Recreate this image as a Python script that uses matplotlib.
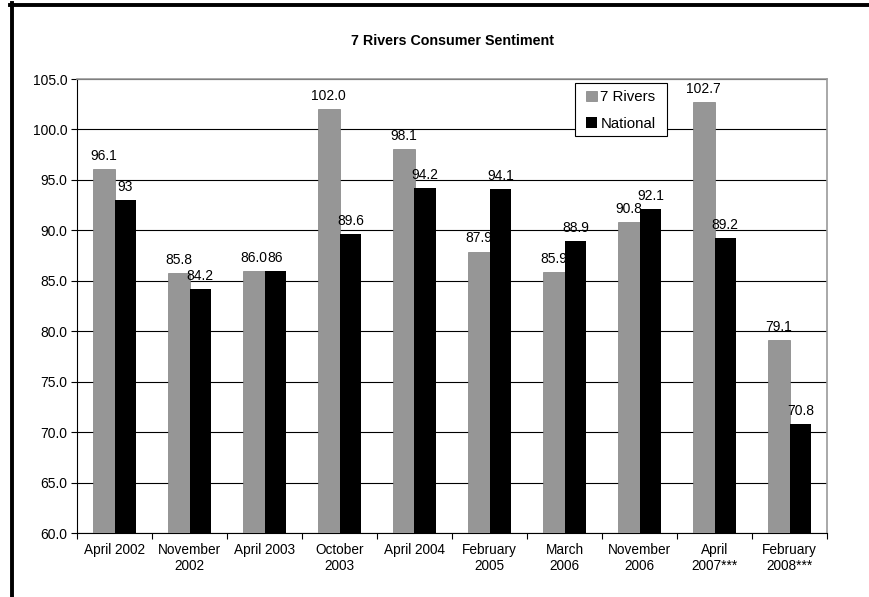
import matplotlib.pyplot as plt
from matplotlib.lines import Line2D
from matplotlib.patches import Patch, Rectangle
import numpy as np

plt.rcParams['font.family'] = ['Liberation Sans', 'DejaVu Sans']

# Data
periods = ['April 2002', 'November\n2002', 'April 2003', 'October\n2003', 'April 2004',
           'February\n2005', 'March\n2006', 'November\n2006', 'April\n2007***', 'February\n2008***']
rivers = [96.1, 85.8, 86.0, 102.0, 98.1, 87.9, 85.9, 90.8, 102.7, 79.1]
national = [93, 84.2, 86, 89.6, 94.2, 94.1, 88.9, 92.1, 89.2, 70.8]

GRAY = '#969696'
W, H = 869, 597
fig = plt.figure(figsize=(W / 100, H / 100), dpi=100)
ax = fig.add_axes([77 / W, 64 / H, 750 / W, 454 / H])

x = np.arange(len(periods))
w = 0.29
ax.bar(x - w / 2, np.array(rivers) - 60, w, bottom=60, color=GRAY, edgecolor='#808080', linewidth=0.5,
       label='7 Rivers', zorder=3)
ax.bar(x + w / 2, np.array(national) - 60, w, bottom=60, color='black', label='National', zorder=3)

# value labels
for xi, v in zip(x, rivers):
    ax.text(xi - w / 2, v + 0.6, f"{v:.1f}", ha='center', va='bottom', fontsize=10)
for xi, v in zip(x, national):
    ax.text(xi + w / 2, v + 0.6, f"{v:g}", ha='center', va='bottom', fontsize=10)

ax.set_xlim(-0.5, len(periods) - 0.5)
ax.set_ylim(60, 105)
ax.set_yticks(np.arange(60, 105.1, 5))
ax.set_yticklabels([f"{t:.1f}" for t in np.arange(60, 105.1, 5)], fontsize=10)
ax.yaxis.grid(True, color='black', linewidth=0.8, zorder=0)
ax.set_axisbelow(True)

# ticks at category boundaries, labels at centers
ax.set_xticks(np.arange(-0.5, len(periods), 1))
ax.set_xticklabels([])
ax.set_xticks(x, minor=True)
ax.set_xticklabels(periods, minor=True, fontsize=9.8)
ax.tick_params(axis='x', which='minor', length=0, pad=7)
ax.tick_params(axis='x', which='major', length=4, direction='out')
ax.tick_params(axis='y', length=4, direction='out', pad=3)

for s in ['top', 'right']:
    ax.spines[s].set_color('#999999')
    ax.spines[s].set_linewidth(1.2)
ax.spines['left'].set_linewidth(0.8)
ax.spines['bottom'].set_linewidth(0.8)

# legend: box drawn separately for Excel-like padding
fig.add_artist(Rectangle((575 / W, 1 - 136 / H), 92 / W, 53 / H, transform=fig.transFigure,
                         facecolor='white', edgecolor='black', linewidth=0.8, zorder=4))
handles = [Patch(facecolor=GRAY, edgecolor='#808080', linewidth=0.5), Patch(facecolor='black')]
leg = fig.legend(handles, ['7 Rivers', 'National'], loc='upper left',
                 bbox_to_anchor=(586 / W, 1 - 90 / H), fontsize=10.8,
                 frameon=False, handlelength=0.7, handleheight=0.7,
                 handletextpad=0.25, labelspacing=0.85, borderpad=0, borderaxespad=0)
leg.set_zorder(5)

fig.text(452 / W, 1 - 41 / H, '7 Rivers Consumer Sentiment', ha='center', va='center',
         fontsize=10.3, fontweight='bold')

# outer frame (top and left edges visible)
fig.add_artist(Line2D([10 / W, 1], [1 - 4.5 / H] * 2, color='black', linewidth=2.8,
                      transform=fig.transFigure))
fig.add_artist(Line2D([11.5 / W] * 2, [0, 1 - 3 / H], color='black', linewidth=2.8,
                      transform=fig.transFigure))

plt.savefig('out.png', dpi=100)
